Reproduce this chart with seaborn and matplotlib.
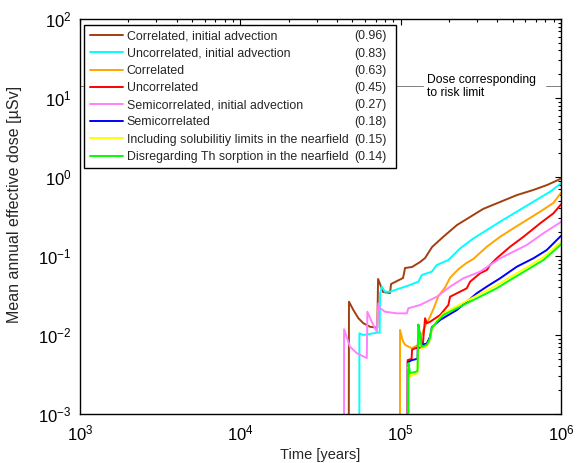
import numpy as np
import pandas as pd
import matplotlib
matplotlib.use("Agg")
import matplotlib.pyplot as plt
import seaborn as sns
from matplotlib.ticker import LogLocator, NullFormatter

# ---------------- data ----------------
labels = [
    "Correlated, initial advection",
    "Uncorrelated, initial advection",
    "Correlated",
    "Uncorrelated",
    "Semicorrelated, initial advection",
    "Semicorrelated",
    "Including solubilitiy limits in the nearfield",
    "Disregarding Th sorption in the nearfield",
]
peak_values = ["(0.96)", "(0.83)", "(0.63)", "(0.45)", "(0.27)", "(0.18)", "(0.15)", "(0.14)"]
colors = ["#A0400F", "#00FFFF", "#FFA500", "#FF0000", "#FF80FF", "#0000FF", "#FFFF00", "#00FF00"]

corr_adv_t = [47400, 47600, 50700, 54500, 58500, 64500, 68500, 71500, 72300, 77700, 85900, 87100,
              103500, 106500, 117800, 132200, 142000, 157000, 183800, 224700, 271000, 326600,
              417000, 532500, 670000, 819000, 959000, 1000000]
corr_adv_d = [1e-4, 0.0264, 0.0207, 0.0163, 0.0141, 0.0127, 0.0125, 0.0125, 0.0512, 0.035, 0.034, 0.0442,
              0.0527, 0.0705, 0.0726, 0.084, 0.0943, 0.130, 0.174, 0.247, 0.312, 0.394,
              0.483, 0.592, 0.684, 0.792, 0.916, 0.96]

uncorr_adv_t = [55200, 55300, 58500, 67600, 71000, 74000, 74400, 76300, 79900, 85900, 99100, 114500,
                128900, 135400, 156400, 168000, 198400, 235000, 284500, 344600, 417000, 530000,
                673000, 855000, 1000000]
uncorr_adv_d = [1e-4, 0.0105, 0.0100, 0.0105, 0.0107, 0.0107, 0.0337, 0.0409, 0.0353, 0.0353, 0.039, 0.043,
                0.0473, 0.0575, 0.0633, 0.0769, 0.089, 0.125, 0.167, 0.213, 0.272, 0.364,
                0.487, 0.652, 0.83]

corr_t = [99000, 99100, 103000, 106500, 117200, 128900, 138600, 152500, 160000, 171900, 189300,
          203300, 229000, 258400, 284500, 344600, 417000, 504700, 612000, 741000, 897000, 1000000]
corr_d = [1e-4, 0.0116, 0.0085, 0.0075, 0.0068, 0.0075, 0.0116, 0.0171, 0.0213, 0.031, 0.040,
          0.053, 0.068, 0.082, 0.092, 0.131, 0.175, 0.224, 0.286, 0.364, 0.47, 0.63]

uncorr_t = [110000, 110500, 117000, 117800, 123000, 137000, 142000, 145500, 152500, 176200, 198400,
            203300, 224000, 258400, 271000, 312900, 344600, 361000, 397000, 481500, 583000,
            741000, 897000, 1000000]
uncorr_d = [1e-4, 0.0048, 0.0050, 0.0065, 0.0068, 0.0070, 0.0163, 0.0141, 0.0147, 0.0179, 0.024,
            0.0305, 0.0337, 0.039, 0.0473, 0.0604, 0.0665, 0.0769, 0.0935, 0.131, 0.175,
            0.259, 0.347, 0.45]

semi_adv_t = [44300, 44360, 48300, 53200, 61500, 62000, 66000, 71000, 72600, 74400, 79900, 94600,
              109200, 111700, 132200, 168000, 203300, 246100, 312900, 417000, 612000, 777000, 1000000]
semi_adv_d = [1e-4, 0.0118, 0.0071, 0.0059, 0.0051, 0.0197, 0.0147, 0.0110, 0.0252, 0.0218, 0.0197, 0.0188,
              0.0188, 0.0218, 0.024, 0.0305, 0.0409, 0.0522, 0.0633, 0.0935, 0.138, 0.194, 0.27]

semi_t = [110700, 110800, 117000, 127400, 128900, 132200, 135400, 145500, 152500, 156400, 176200,
          198400, 224000, 258400, 298300, 344600, 417000, 530000, 673000, 815000, 1000000]
semi_d = [1e-4, 0.0045, 0.0048, 0.0050, 0.0135, 0.0095, 0.0075, 0.0078, 0.0095, 0.0125, 0.0155,
          0.0179, 0.0207, 0.0264, 0.0337, 0.041, 0.0522, 0.0732, 0.0935, 0.119, 0.18]

solub_t = [111600, 111700, 114500, 123000, 127400, 128900, 132200, 135400, 145500, 152500, 156400,
           168000, 184700, 224000, 271000, 328000, 397000, 481500, 612000, 777000, 1000000]
solub_d = [1e-4, 0.0040, 0.0030, 0.0032, 0.0033, 0.0125, 0.0090, 0.0068, 0.0072, 0.0088, 0.0118,
           0.0150, 0.0188, 0.0232, 0.0285, 0.0348, 0.0425, 0.054, 0.072, 0.097, 0.15]

nosorp_t = [111600, 111700, 114500, 123000, 127400, 128900, 132200, 135400, 145500, 152500, 156400,
            168000, 184700, 224000, 271000, 328000, 397000, 481500, 612000, 777000, 1000000]
nosorp_d = [1e-4, 0.0044, 0.0033, 0.0034, 0.0035, 0.0134, 0.0095, 0.0071, 0.0075, 0.0091, 0.0122,
            0.0147, 0.0179, 0.0218, 0.0264, 0.0321, 0.039, 0.0497, 0.0665, 0.089, 0.14]

series_t = [corr_adv_t, uncorr_adv_t, corr_t, uncorr_t, semi_adv_t, semi_t, solub_t, nosorp_t]
series_d = [corr_adv_d, uncorr_adv_d, corr_d, uncorr_d, semi_adv_d, semi_d, solub_d, nosorp_d]

risk_limit = 14.0
risk_text = "Dose corresponding\nto risk limit"
risk_gap = (1.38e5, 8.07e5)

# ---------------- build the table ----------------
rows = []
for lab, ts, ds in zip(labels, series_t, series_d):
    for i, (t, d) in enumerate(zip(ts, ds)):
        rows.append({"Time": t, "Dose": d, "Case": lab, "order": i})
df = pd.DataFrame(rows)

# ---------------- style ----------------
sns.set_theme(style="white")
plt.rcParams["font.family"] = ["Liberation Sans", "DejaVu Sans"]
plt.rcParams["mathtext.fontset"] = "custom"
plt.rcParams["mathtext.rm"] = "Liberation Sans"
plt.rcParams["mathtext.it"] = "Liberation Sans:italic"
plt.rcParams["mathtext.bf"] = "Liberation Sans:bold"

fig = plt.figure(figsize=(5.81, 4.63), dpi=100)
ax = fig.add_axes([80 / 581, 1 - 414 / 463, 481 / 581, 395 / 463])

# risk limit line (drawn first, underneath)
ax.plot([1e3, risk_gap[0]], [risk_limit, risk_limit], color="#808080", lw=0.7, zorder=1)
ax.plot([risk_gap[1], 1e6], [risk_limit, risk_limit], color="#808080", lw=0.7, zorder=1)
ax.text(1.46e5, risk_limit, risk_text, fontsize=8.7, va="center", ha="left",
        color="black", linespacing=1.1)

sns.lineplot(data=df, x="Time", y="Dose", hue="Case", hue_order=labels,
             palette=dict(zip(labels, colors)), estimator=None, sort=False,
             units="Case", lw=1.4, ax=ax, legend=True)

ax.set_xscale("log")
ax.set_yscale("log")
ax.set_xlim(1e3, 1e6)
ax.set_ylim(1e-3, 1e2)
ax.set_xlabel("Time [years]", fontsize=10.5, labelpad=3)
ax.set_ylabel("Mean annual effective dose [µSv]", fontsize=11.5)
ax.yaxis.set_label_coords(-0.121, 0.53)

ax.xaxis.set_major_locator(LogLocator(base=10, numticks=10))
ax.yaxis.set_major_locator(LogLocator(base=10, numticks=10))
ax.xaxis.set_minor_locator(LogLocator(base=10, subs=np.arange(2, 10), numticks=20))
ax.yaxis.set_minor_locator(LogLocator(base=10, subs=np.arange(2, 10), numticks=20))
ax.xaxis.set_minor_formatter(NullFormatter())
ax.yaxis.set_minor_formatter(NullFormatter())
ax.tick_params(which="both", direction="in", top=True, right=True, colors="black", width=0.8)
ax.tick_params(which="major", length=4, labelsize=12)
ax.tick_params(axis="x", which="major", pad=7)
ax.tick_params(axis="y", which="major", pad=6)
ax.tick_params(which="minor", length=2)
for s in ax.spines.values():
    s.set_color("black")
    s.set_linewidth(1.0)

handles, _ = ax.get_legend_handles_labels()
leg = ax.legend(handles, labels, loc="upper left",
                bbox_to_anchor=(4 / 481, 0.623, 312 / 481, 0.362), mode="expand",
                fontsize=8.9, frameon=True, fancybox=False, edgecolor="black",
                framealpha=1.0, facecolor="white",
                handlelength=2.7, handletextpad=0.3, labelspacing=0.42,
                borderpad=0.45, borderaxespad=0)
leg.get_frame().set_linewidth(1.0)
leg.set_zorder(5)
for h in leg.legend_handles:
    h.set_linewidth(1.4)

fig.canvas.draw()
renderer = fig.canvas.get_renderer()
for txt, val in zip(leg.get_texts(), peak_values):
    bb = txt.get_window_extent(renderer)
    yc = (bb.y0 + bb.y1) / 2
    fig.text(354 / 581, yc / fig.bbox.height, val, fontsize=8.9, va="center", ha="left",
             zorder=10)

fig.savefig("out.png", dpi=100)
